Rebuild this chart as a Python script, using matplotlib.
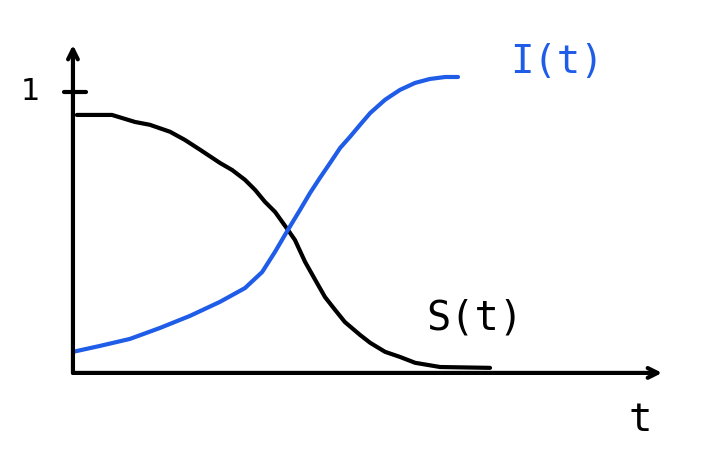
import matplotlib.pyplot as plt

# sketch of S(t) and I(t); t scaled so the I curve ends near t=1
t_s = [0.010, 0.100, 0.159, 0.197, 0.249, 0.287, 0.326, 0.377, 0.408, 0.441, 0.467, 0.492,
       0.518, 0.551, 0.569, 0.595, 0.621, 0.646, 0.672, 0.697, 0.736, 0.762, 0.800, 0.838,
       0.877, 0.941, 1.069]
s_vals = [0.918, 0.918, 0.893, 0.883, 0.858, 0.829, 0.794, 0.747, 0.722, 0.687, 0.651, 0.609,
          0.573, 0.509, 0.473, 0.395, 0.331, 0.270, 0.224, 0.181, 0.135, 0.107, 0.075, 0.057,
          0.036, 0.021, 0.018]

t_i = [0.0, 0.069, 0.146, 0.223, 0.300, 0.377, 0.441, 0.485, 0.518, 0.551, 0.582, 0.608,
       0.633, 0.659, 0.685, 0.710, 0.736, 0.762, 0.800, 0.838, 0.877, 0.915, 0.954, 0.987]
i_vals = [0.075, 0.096, 0.121, 0.160, 0.203, 0.253, 0.302, 0.359, 0.431, 0.509, 0.580, 0.641,
          0.694, 0.747, 0.801, 0.840, 0.883, 0.925, 0.972, 1.007, 1.032, 1.046, 1.053, 1.053]

blue = '#1f5ce8'

fig = plt.figure(figsize=(7.28, 4.62), dpi=100)
ax = fig.add_axes([0, 0, 1, 1])
ax.set_xlim(-0.187, 1.679)
ax.set_ylim(-0.317, 1.327)
ax.axis('off')

arrow = dict(arrowstyle='->,head_width=0.35,head_length=0.7', lw=3, color='black',
             shrinkA=0, shrinkB=0, capstyle='round')
ax.annotate('', xy=(0, 1.167), xytext=(0, 0), arrowprops=arrow)
ax.annotate('', xy=(1.51, 0.0), xytext=(0, 0), arrowprops=arrow)
ax.plot([-0.023, 0.033], [1.0, 1.0], color='black', lw=3, solid_capstyle='round')

ax.plot(t_s, s_vals, color='black', lw=3, solid_capstyle='round', solid_joinstyle='round')
ax.plot(t_i, i_vals, color=blue, lw=3, solid_capstyle='round', solid_joinstyle='round')

mono = 'DejaVu Sans Mono'
ax.text(1.24, 1.107, 'I(t)', color=blue, fontsize=28, family=mono, ha='center', va='center')
ax.text(1.03, 0.195, 'S(t)', color='black', fontsize=29, family=mono, ha='center', va='center')
ax.text(1.454, -0.167, 't', color='black', fontsize=28, family=mono, ha='center', va='center')
ax.text(-0.11, 1.0, '1', color='black', fontsize=22, ha='center', va='center')

fig.savefig('out.png', dpi=100)
